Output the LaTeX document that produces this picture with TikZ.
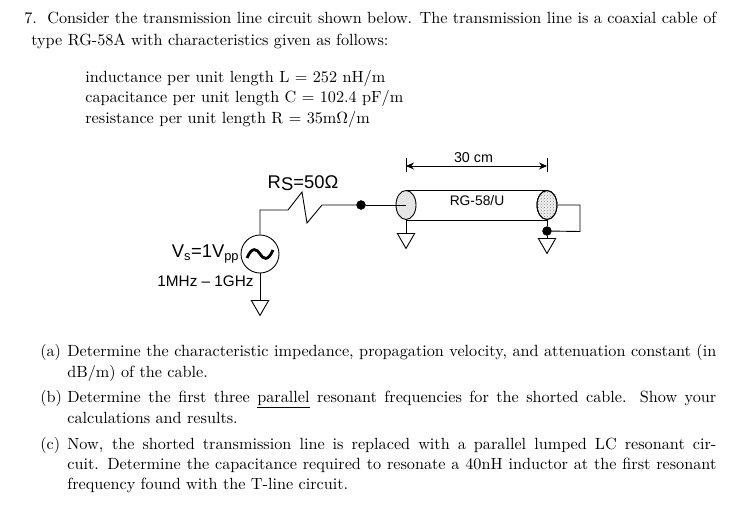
\documentclass[tikz,border=0pt]{standalone}
\usepackage{fontspec}
\usepackage{xcolor}
\usepackage{tikz}
\usetikzlibrary{shapes.geometric, arrows.meta, patterns}
\newfontfamily\figfont{Liberation Sans}
\newcommand{\fullline}[2]{\makebox[#1][s]{#2}}
\tikzstyle{arrow} = [line width=0.9pt,{Stealth[length=8pt,width=7pt]}-{Stealth[length=8pt,width=7pt]}]
\tikzstyle{wire} = [line width=0.9pt]
\tikzstyle{txt} = [anchor=base west,inner sep=0,scale=1.62,transform shape,font=\fontsize{10}{12}\selectfont]
\tikzstyle{lbl} = [inner sep=0,font=\figfont\fontsize{15.3}{17}\selectfont]
\tikzstyle{dot} = [draw,circle,fill,inner sep=0,minimum size=9pt]
\tikzstyle{gnd} = [draw,line width=0.9pt,regular polygon,regular polygon sides=3,shape border rotate=180,minimum size=20pt,inner sep=0,anchor=side 2]
\tikzstyle{capend} = [draw,ellipse,line width=0.9pt,minimum width=20pt,minimum height=29pt,inner sep=0]
\begin{document}
\begin{tikzpicture}[x=1pt,y=-1pt]
            \useasboundingbox (0,0) rectangle (752,509);
            % question text
            \node[txt] (num) at (24,23) {7.};
            \node[txt] (intro) at (47,23) {\fullline{413pt}{Consider the transmission line circuit shown below. The transmission line is a coaxial cable of}};
            \node[txt] (intro2) at (31,45) {type RG-58A with characteristics given as follows:};
            \node[txt] (ind) at (85,82) {inductance per unit length L $=$ 252 nH/m};
            \node[txt] (cap) at (85,102) {capacitance per unit length C $=$ 102.4 pF/m};
            \node[txt] (res) at (85,123) {resistance per unit length R $=$ 35m$\Omega$/m};
            % circuit
            \node[draw,circle,wire,fill=white,minimum size=38pt,inner sep=0] (src) at (260,254) {};
            \draw[line width=2.8pt] (247,258) .. controls (252,246) and (257,249) .. (260,254) .. controls (263,259) and (268,262) .. (273,250);
            \node[gnd] (gndsrc) at (260,300) {};
            \draw[wire] (src) -- (gndsrc.side 2);
            \node[dot] (in) at (361,205) {};
            \coordinate (rs) at (288,210);
            \draw[wire] (src) -- (260,210) -- (rs) -- (302,192) -- (307,223) -- (322,205) -- (in);
            \node[capend,fill=black!10] (lend) at (406,205) {};
            \node[capend,fill=black!5] (rend) at (547,205) {};
            \node[capend,pattern=crosshatch dots,pattern color=black!50] (rdots) at (547,205) {};
            \draw[wire] (lend.north) -- (rend.north);
            \draw[wire] (lend.south) -- (rend.south);
            \draw[wire] (in) -- (lend.center);
            \node[gnd] (gndl) at (406,233) {};
            \node[gnd] (gndr) at (547,238) {};
            \node[dot] (sh) at (547,231) {};
            \draw[wire] (lend.south) -- (gndl.side 2);
            \draw[wire] (rend.south) -- (sh) -- (gndr.side 2);
            \draw[wire] (rend.east) -- (580,205) -- (580,231.5) -- (sh);
            % dimension
            \coordinate (dl) at (406,166);
            \coordinate (dr) at (547,166);
            \draw[wire] (406,158) -- (406,172);
            \draw[wire] (547,158) -- (547,172);
            \draw[arrow] (dl) -- (dr);
            \node[lbl,font=\figfont\fontsize{14.3}{16}\selectfont] (len) at (473.5,158) {30 cm};
            \node[lbl,font=\figfont\fontsize{13.8}{16}\selectfont] (type) at (477,201) {RG-58/U};
            \node[lbl,font=\figfont\fontsize{18.4}{20}\selectfont] (rslab) at (303,183) {R\raisebox{-2pt}{S}=50Ω};
            \node[lbl,font=\figfont\fontsize{18.4}{20}\selectfont] (vslab) at (205.5,254) {V\textsubscript{s}=1V\textsubscript{pp}};
            \node[lbl] (fr) at (205.5,281) {1MHz – 1GHz};
            % parts
            \node[txt] (a) at (40,356) {(a)};
            \node[txt] (ap) at (67,356) {\fullline{400.6pt}{Determine the characteristic impedance, propagation velocity, and attenuation constant (in}};
            \node[txt] (ap2) at (67,377) {dB/m) of the cable.};
            \node[txt] (b) at (40,402) {(b)};
            \node[txt] (bp) at (67,402) {\fullline{400.6pt}{Determine the first three \underline{parallel} resonant frequencies for the shorted cable. Show your}};
            \node[txt] (bp2) at (67,423) {calculations and results.};
            \node[txt] (c) at (40,449) {(c)};
            \node[txt] (cp) at (67,449) {\fullline{400.6pt}{Now, the shorted transmission line is replaced with a parallel lumped LC resonant cir-}};
            \node[txt] (cp2) at (67,469) {\fullline{400.6pt}{cuit. Determine the capacitance required to resonate a 40nH inductor at the first resonant}};
            \node[txt] (cp3) at (67,489) {frequency found with the T-line circuit.};
\end{tikzpicture}
\end{document}
